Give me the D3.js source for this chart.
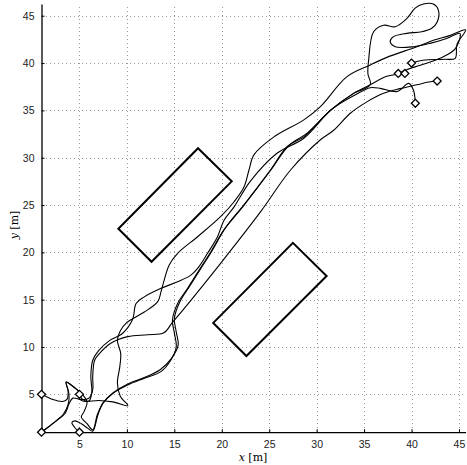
<!DOCTYPE html>
<html>
<head>
<meta charset="utf-8">
<script src="https://cdn.jsdelivr.net/npm/d3@7"></script>
<style>
html,body{margin:0;padding:0;background:#fff;}
svg{display:block;}
</style>
</head>
<body>
<svg id="chart" width="467" height="465"></svg>
<script>
// ---- data ----
const xTicks = [5,10,15,20,25,30,35,40,45];
const yTicks = [5,10,15,20,25,30,35,40,45];
const xDomain = [1, 45.7];
const yDomain = [1, 46.25];

const obstacle1 = [[17.5,31],[21.05,27.5],[12.6,19],[9.1,22.5]];
const obstacle2 = [[27.5,21],[31.05,17.5],[22.6,9.05],[19.1,12.55]];

const startPoints = [[1,1],[1,5],[5,1],[5,5]];
const goalPoints = [[40,40],[38.6,38.9],[39.3,38.9],[42.7,38.1],[40.4,35.75]];

const traj1 = [[1,5],[2.2,4.45],[3.2,4.25],[3.7,4.5],[3.8,5.4],[3.6,6.3],[4.4,5.75],[5.1,5.1],[5.0,4.5],[5.6,4.25],[7.0,4.35],[8.5,4.2],[10.1,3.8],[9.3,4.8],[9.0,6.2],[9.25,7.9],[9.35,9.3],[9.0,10.7],[9.3,11.7],[10.0,12.6],[10.62,13.0],[11.84,13.7],[13.25,14.8],[13.6,15.85],[13.94,17.1],[14.46,18.67],[15.35,19.9],[17.45,21.65],[19.9,23.8],[21.3,25.35],[22.34,26.9],[22.87,28.7],[23.39,30.3],[25.5,32.2],[28.65,34],[30.4,35.4],[33.2,38.56],[35.65,39.8],[37.4,40.6],[40.5,41.7],[42.3,42.4],[44,42.9],[45.7,43.5],[44.8,42.0],[44.6,40.5],[43.5,40.4],[41.2,40.3],[40,40]];

const traj2 = [[1,1],[1.8,1.6],[2.7,2.3],[3.5,3.0],[3.9,4.0],[4.3,4.6],[5.2,4.45],[6.0,4.6],[6.4,5.5],[6.4,6.9],[6.6,8.6],[7.1,9.3],[8.3,10.4],[10.1,11.1],[12.2,11.3],[13.9,11.5],[14.8,12.6],[15.9,13.9],[20,19],[24.1,24.3],[27.25,28.7],[30.4,31.9],[31.8,32.9],[33.55,34.7],[35.3,35.9],[37.05,36.8],[38.8,37.3],[40.55,37.7],[41.8,38.0],[42.7,38.1]];

const traj3 = [[5,1],[4.5,1.5],[4.2,2.0],[4.5,2.2],[5.2,1.9],[5.9,1.4],[6.4,1.1],[6.94,2.82],[7.46,4.05],[8.52,5.11],[10.09,5.99],[11.84,6.7],[13.59,7.4],[14.64,8.63],[15.2,10.0],[15.0,11.5],[14.8,12.85],[15.35,14.6],[16.4,16.2],[17.6,18.1],[18.85,20.07],[20.24,22.4],[22.2,24.8],[25.15,28.7],[26.9,31.2],[28.65,32.2],[31.45,35.0],[33.9,36.8],[35.65,37.7],[37.4,38.6],[39.3,38.9]];

const traj4 = [[5,5],[5.3,4.5],[6.0,4.3],[6.3,5.2],[6.2,6.9],[6.4,8.6],[7.0,9.6],[8.2,10.7],[9.5,11.4],[10.6,12.9],[10.97,14.6],[11.84,15.3],[13.6,16.2],[15.35,16.9],[16.74,17.6],[17.6,18.5],[18.5,19.9],[19.55,21.65],[20.24,23.4],[21.3,24.8],[23.0,27.5],[25.85,30.5],[28.65,32.05],[31.45,35.0],[33.9,36.8],[35.65,37.7],[35.4,38.9],[35.48,40.32],[36.0,43.3],[37.05,44.0],[38.28,43.84],[39.5,44.7],[40.38,45.8],[41.25,46.24],[42.3,46.24],[42.83,45.6],[42.72,44.37],[42.13,43.67],[41.08,43.3],[39.5,43.14],[38.1,42.79],[37.75,42.26],[38.28,41.73],[40.2,41.73],[41.95,42.08],[43.7,42.6],[45.1,43.14],[44.6,41.5],[43.0,40.5],[41.0,39.8],[39.5,39.3],[38.6,38.9]];

const traj5 = [[1,1],[1.9,1.7],[2.6,2.25],[3.3,2.9],[3.8,3.9],[3.9,5.0],[3.6,6.3],[4.5,5.7],[5.3,5.0],[5.8,4.2],[5.5,3.2],[5.2,2.6],[5.8,1.9],[6.4,1.25],[6.9,2.9],[7.5,4.1],[8.6,5.2],[10.1,6.1],[11.9,6.8],[13.5,7.6],[14.7,8.8],[15.4,10.2],[15.2,11.6],[15.0,13.0],[15.6,14.8],[16.6,16.4],[17.8,18.3],[19.0,20.2],[20.4,22.6],[22.4,25.1],[25.3,28.9],[27.1,31.3],[29.0,32.6],[31.7,35.2],[34.0,36.6],[35.65,37.4],[36.8,37.3],[38.5,37.0],[39.7,37.85],[40.2,37.15],[40.4,35.75]];

const trajectories = [traj1, traj2, traj3, traj4, traj5];

// ---- drawing ----
const svg = d3.select("#chart");
const x = d3.scaleLinear().domain(xDomain).range([41.5, 465.6]);
const y = d3.scaleLinear().domain(yDomain).range([432.2, 3.9]);

const grid = svg.append("g").attr("stroke", "#9a9a9a").attr("stroke-width", 1)
  .attr("stroke-dasharray", "1,3").attr("shape-rendering","crispEdges");
xTicks.forEach(t => {
  grid.append("line").attr("x1", Math.round(x(t))+0.5).attr("x2", Math.round(x(t))+0.5)
    .attr("y1", y.range()[0]).attr("y2", y.range()[1]);
});
yTicks.forEach(t => {
  grid.append("line").attr("y1", Math.round(y(t))+0.5).attr("y2", Math.round(y(t))+0.5)
    .attr("x1", x.range()[0]).attr("x2", x.range()[1]);
});

// axes (MATLAB style: ticks inward)
const xAxis = d3.axisBottom(x).tickValues(xTicks).tickSizeInner(-3).tickSizeOuter(0).tickPadding(8);
const yAxis = d3.axisLeft(y).tickValues(yTicks).tickSizeInner(-3).tickSizeOuter(0).tickPadding(7);
const gx = svg.append("g").attr("transform", `translate(0,${y.range()[0]})`).call(xAxis);
const gy = svg.append("g").attr("transform", `translate(${x.range()[0]},0)`).call(yAxis);
[gx, gy].forEach(g => {
  g.select(".domain").attr("stroke", "#000").attr("stroke-width", 1.3);
  g.selectAll(".tick line").attr("stroke", "#000");
  g.selectAll(".tick text").attr("font-family", "Liberation Sans, Arial, sans-serif")
    .attr("font-size", 10.5).attr("fill", "#222");
});

// obstacles
const poly = d3.line().x(d => x(d[0])).y(d => y(d[1])).curve(d3.curveLinearClosed);
[obstacle1, obstacle2].forEach(o => {
  svg.append("path").attr("d", poly(o)).attr("fill", "none")
    .attr("stroke", "#000").attr("stroke-width", 2).attr("stroke-linejoin", "miter");
});

// trajectories
const line = d3.line().x(d => x(d[0])).y(d => y(d[1])).curve(d3.curveCatmullRom.alpha(0.5));
trajectories.forEach(t => {
  svg.append("path").attr("d", line(t)).attr("fill", "none")
    .attr("stroke", "#000").attr("stroke-width", 1.1);
});

// diamonds
const sym = d3.symbol().type(d3.symbolDiamond2).size(40);
startPoints.concat(goalPoints).forEach(p => {
  svg.append("path").attr("d", sym()).attr("transform", `translate(${x(p[0])},${y(p[1])})`)
    .attr("fill", "#fff").attr("stroke", "#000").attr("stroke-width", 1.3);
});

// axis labels
const xl = svg.append("text").attr("x", 253).attr("y", 461).attr("text-anchor", "middle")
  .attr("font-family", "DejaVu Serif, serif").attr("font-size", 11);
xl.append("tspan").attr("font-style", "italic").text("x");
xl.append("tspan").text(" [m]");
const yl = svg.append("text").attr("transform", "translate(18,225) rotate(-90)").attr("text-anchor", "middle")
  .attr("font-family", "DejaVu Serif, serif").attr("font-size", 11);
yl.append("tspan").attr("font-style", "italic").text("y");
yl.append("tspan").text(" [m]");
</script>
</body>
</html>
